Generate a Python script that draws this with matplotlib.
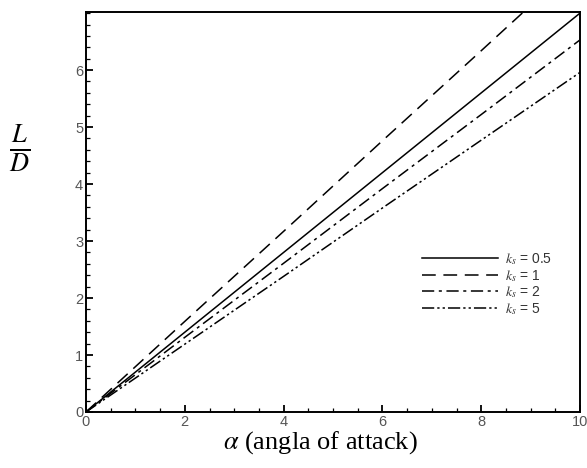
import numpy as np
import matplotlib.pyplot as plt
from matplotlib.ticker import MultipleLocator

plt.rcParams["font.family"] = ["Liberation Sans", "DejaVu Sans"]
plt.rcParams["mathtext.fontset"] = "stix"

# angle of attack
alpha = [0, 2, 4, 6, 8, 10]
# L/D for each k_s
ld_05 = [0, 1.40, 2.80, 4.20, 5.60, 7.00]
ld_1 = [0, 1.59, 3.17, 4.76, 6.34, 7.93]
ld_2 = [0, 1.31, 2.61, 3.92, 5.22, 6.53]
ld_5 = [0, 1.19, 2.38, 3.58, 4.77, 5.96]
labels = [r"$k_s$ = 0.5", r"$k_s$ = 1", r"$k_s$ = 2", r"$k_s$ = 5"]

fig = plt.figure(figsize=(5.87, 4.68), dpi=100)
ax = fig.add_axes([0.1465, 0.1197, 0.8416, 0.8547])

lw = 1.1
ax.plot(alpha, ld_05, color="black", lw=lw, label=labels[0])
ax.plot(alpha, ld_1, color="black", lw=lw, dashes=(9, 5), label=labels[1])
ax.plot(alpha, ld_2, color="black", lw=lw, dashes=(8, 3, 2, 3), label=labels[2])
ax.plot(alpha, ld_5, color="black", lw=lw, dashes=(8, 2, 1.5, 2, 1.5, 2), label=labels[3])

ax.set_xlim(0, 10)
ax.set_ylim(0, 7.02)
ax.xaxis.set_major_locator(MultipleLocator(2))
ax.xaxis.set_minor_locator(MultipleLocator(0.5))
ax.set_yticks([0, 1, 2, 3, 4, 5, 6])
ax.yaxis.set_minor_locator(MultipleLocator(0.2))
ax.tick_params(which="both", direction="in", labelsize=10.5, labelcolor="#555555")
ax.tick_params(which="major", length=5, width=1.3, pad=2)
ax.tick_params(which="minor", length=3, width=0.9)
for s in ax.spines.values():
    s.set_linewidth(1.4)

ax.set_xlabel(r"$\alpha$ (angla of attack)", fontsize=19, family="Liberation Serif")
ax.xaxis.set_label_coords(0.475, -0.043)
ax.set_ylabel(r"$\frac{L}{D}$", fontsize=27, rotation=0, va="center")
ax.yaxis.set_label_coords(-0.134, 0.66)

leg = ax.legend(loc="center left", bbox_to_anchor=(0.655, 0.32), frameon=False,
                fontsize=10, handlelength=5.5, labelspacing=0.05, handletextpad=0.5)
for t in leg.get_texts():
    t.set_color("#333333")

fig.savefig("out.png", dpi=100)
